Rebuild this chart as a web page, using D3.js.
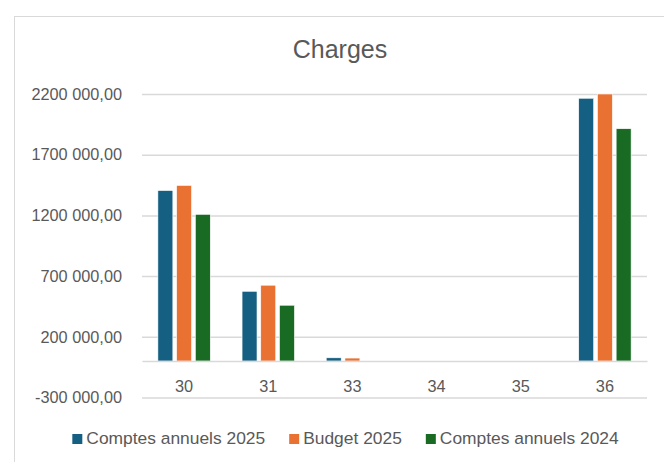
<!DOCTYPE html>
<html>
<head>
<meta charset="utf-8">
<script src="https://cdn.jsdelivr.net/npm/d3@7"></script>
<style>
  body { margin: 0; background: #fff; }
  #chart { width: 664px; height: 462px; }
  text { font-family: "Liberation Sans", Arial, sans-serif; fill: #595959; }
</style>
</head>
<body>
<div id="chart"></div>
<script>
/* DATA */
const categories = ["30", "31", "33", "34", "35", "36"];
const seriesNames = ["Comptes annuels 2025", "Budget 2025", "Comptes annuels 2024"];
const comptes2025 = [1405000, 575000, 27000, 0, 0, 2165000];
const budget2025 = [1447000, 625000, 25000, 0, 0, 2200000];
const comptes2024 = [1209000, 460000, 0, 0, 0, 1914000];
const yTicks = [-300000, 200000, 700000, 1200000, 1700000, 2200000];
const colors = ["#156082", "#E97132", "#196B24"];

const width = 664, height = 462;
const margin = {top: 94, left: 142, right: 17, bottom: 64};

const svg = d3.select("#chart")
  .append("svg")
  .attr("width", width)
  .attr("height", height);

// chart frame
svg.append("rect")
  .attr("x", 14.5).attr("y", 16.5)
  .attr("width", 700).attr("height", 500)
  .attr("fill", "#fff")
  .attr("stroke", "#d9d9d9");

/* SCALES */
const xScale = d3.scaleBand()
  .domain(categories)
  .range([margin.left, width - margin.right]);

const xInner = d3.scaleBand()
  .domain(seriesNames)
  .range([xScale.bandwidth() / 2 - 26.2, xScale.bandwidth() / 2 + 26.2])
  .paddingInner(0.2);

const yScale = d3.scaleLinear()
  .domain([-300000, 2200000])
  .range([height - margin.bottom - 0.5, margin.top]);

// "2200 000,00" style (Excel # ##0,00)
function fmt(v) {
  const a = Math.abs(v);
  const hi = Math.floor(a / 1000), lo = a % 1000;
  const s = hi > 0 ? hi + " " + String(lo).padStart(3, "0") : String(lo);
  return (v < 0 ? "-" : "") + s + ",00";
}

/* GRIDLINES + Y AXIS */
const yAxis = svg.append("g")
  .attr("transform", `translate(${margin.left},0)`)
  .call(d3.axisLeft(yScale).tickValues(yTicks).tickFormat(fmt)
    .tickSize(-(width - margin.right - margin.left)).tickPadding(20));
yAxis.select(".domain").remove();
yAxis.selectAll("line").attr("stroke", "#d9d9d9").attr("stroke-width", 1.5);
yAxis.selectAll("text").attr("font-size", "16.3px").attr("fill", "#595959")
  .attr("font-family", "Liberation Sans, Arial, sans-serif");

/* BARS */
const seriesData = [comptes2025, budget2025, comptes2024];
const rows = categories.map((c, i) => ({cat: c, vals: seriesData.map((s, j) => ({name: seriesNames[j], v: s[i], j: j}))}));

const groups = svg.selectAll("g.cat")
  .data(rows)
  .enter()
  .append("g")
  .attr("class", "cat")
  .attr("transform", d => `translate(${xScale(d.cat)},0)`);

groups.selectAll("rect")
  .data(d => d.vals.filter(e => e.v !== 0))
  .enter()
  .append("rect")
  .attr("x", d => xInner(d.name))
  .attr("width", xInner.bandwidth())
  .attr("y", d => yScale(Math.max(0, d.v)))
  .attr("height", d => Math.abs(yScale(d.v) - yScale(0)))
  .attr("fill", d => colors[d.j])
  .attr("stroke", "#ffffff")
  .attr("stroke-width", 0.6);

/* X AXIS (at zero) */
const xAxis = svg.append("g")
  .attr("transform", `translate(0,${yScale(0)})`)
  .call(d3.axisBottom(xScale).tickSize(0).tickPadding(19));
xAxis.select(".domain").attr("stroke", "#d9d9d9").attr("stroke-width", 1.5);
xAxis.selectAll("text").attr("font-size", "16.3px").attr("fill", "#595959")
  .attr("font-family", "Liberation Sans, Arial, sans-serif");

/* TITLE */
svg.append("text")
  .attr("x", 340)
  .attr("y", 58)
  .attr("text-anchor", "middle")
  .attr("font-size", "25px")
  .text("Charges");

/* LEGEND */
const legend = svg.append("g");
let lx = 0;
seriesNames.forEach((name, i) => {
  const item = legend.append("g").attr("transform", `translate(${lx},0)`);
  item.append("rect")
    .attr("x", 0).attr("y", -10)
    .attr("width", 10).attr("height", 10)
    .attr("fill", colors[i]);
  const t = item.append("text")
    .attr("x", 14).attr("y", 0)
    .attr("font-size", "17.4px")
    .text(name);
  lx += 14 + t.node().getComputedTextLength() + 24;
});
const legendWidth = lx - 24;
legend.attr("transform", `translate(${345.5 - legendWidth / 2},444)`);
</script>
</body>
</html>
